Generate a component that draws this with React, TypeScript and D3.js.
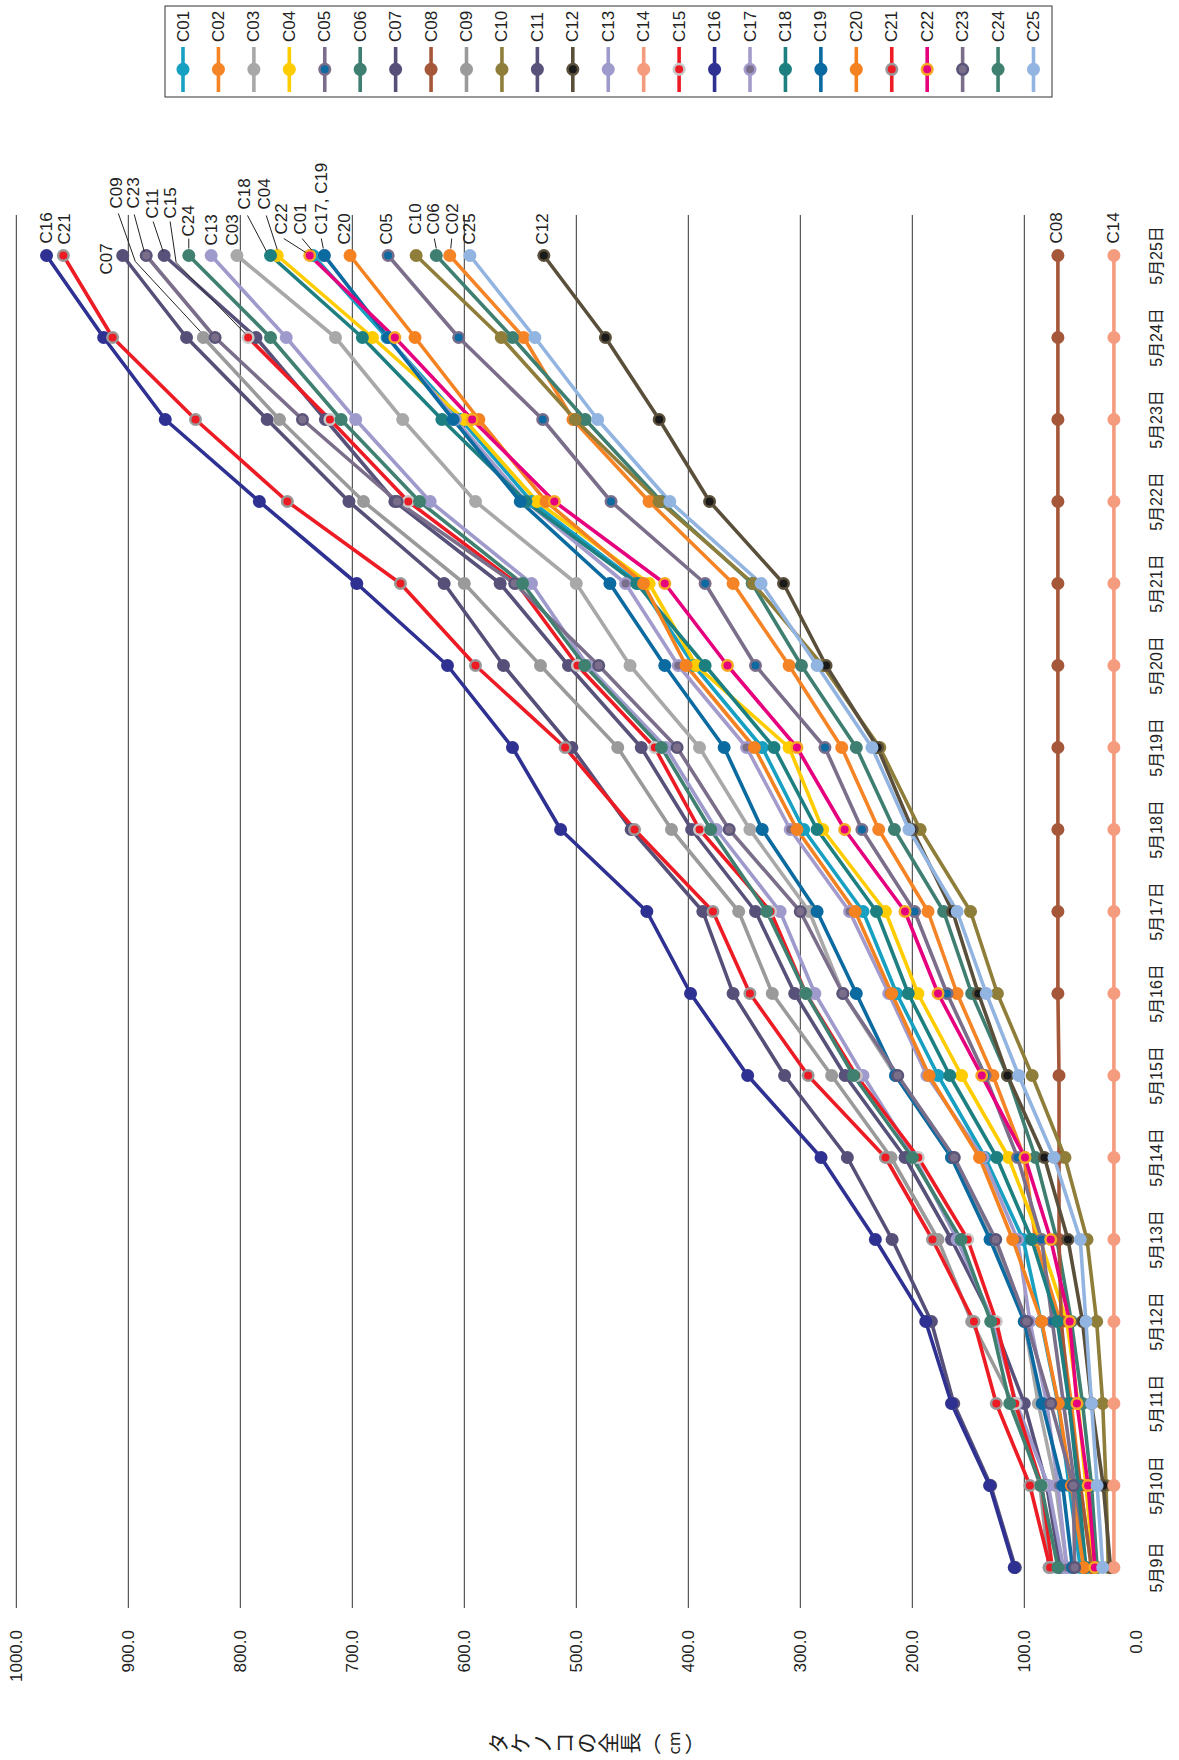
import React from 'react';
import * as d3 from 'd3';

const dates = ['5月9日','5月10日','5月11日','5月12日','5月13日','5月14日','5月15日','5月16日','5月17日','5月18日','5月19日','5月20日','5月21日','5月22日','5月23日','5月24日','5月25日'];
const valueTicks = [0,100,200,300,400,500,600,700,800,900,1000];

const C01 = [50,60,70,85,101,135,177,214,244,297,334,395,444,540,603,669,735];
const C02 = [40,50,58,68,90,100,128,160,186,230,263,310,360,435,503,547,613];
const C03 = [62,72,87.5,100,128,165,215,262,292,345,390,452,500,590,655,715,803];
const C04 = [38,45,52,62,86,114,156,195,224,280,310,393,435,535,600,682,767];
const C05 = [45,55,65,75,84.5,106,135,169,198,245,278,340,385,469,530,605,668];
const C06 = [35,40,48,58,71,90,115,147,172,216,250,299,343,424,492,557,625];
const C07 = [108,130,163,183,218,258,314,360,387,451,504,565,618,703,776,848,905];
const C08 = [40,50,60,67,69,69,69,70,70,70,70,70,70,70,70,70,70];
const C09 = [78,86,110,147,177,219,272,325,355,415,463,532,600,690,765,833,null];
const C10 = [25,27,30,35.4,44,63.7,93,124,148,193,229,280,342,426,501,567,643];
const C11 = [68,80,100,128,165,206.5,260,305,340,397,442,507,568,662,724,786,868];
const C12 = [23,29.5,40,48,61,82,115,141,164,200,231,277,315,381,426,474,529];
const C13 = [65,78.6,107,128,160,198,244,287,318,375,420,490,540,630.5,697,759,826];
const C14 = [20,20,20,20,20,20,20,20,20,20,20,20,20,20,20,20,20];
const C15 = [75,84.5,108,125,150.5,194.6,250,295,326.5,390,430,499,553,650,720,793,null];
const C16 = [109,131,165,188,233,281.5,347,398,437,514,557,615,696,783,867,922,973];
const C17 = [62,70,80,95,106,137,187,221,256,309,348,409,456,545,608,668,725];
const C18 = [45,52,60,70.5,93.4,124.6,166.5,203.6,232,285,323.5,385,446,545,620,691,773];
const C19 = [57,65.7,84,100,130.6,165,215,250,285,334,368,421,470,550,610,668,725];
const C20 = [47,58,69.6,84.5,110.4,140,185,218.4,251,303,341,402,440,527,587,644,702];
const C21 = [77,95,125,145,182,224,293,345,378,448,510,590,657,758,840,914,958];
const C22 = [37,43,53,59.5,76.4,99.4,138,177,206.5,260.4,303,365,421,519.6,593,662,738];
const C23 = [55,56.3,76.4,98,125.5,162.5,213,262,300,363.5,410,480,555,660,744.5,822.5,884];
const C24 = [70,85,113,130,156.5,200,252.5,295,330,380,424,492.5,548,640,710,773,846];
const C25 = [30,35,40,45,50,73.5,105,134,160,203,236,285,335,416.5,481,537,595];

const seriesNames = ['C01','C02','C03','C04','C05','C06','C07','C08','C09','C10','C11','C12','C13','C14','C15','C16','C17','C18','C19','C20','C21','C22','C23','C24','C25'];
const seriesValues = [C01,C02,C03,C04,C05,C06,C07,C08,C09,C10,C11,C12,C13,C14,C15,C16,C17,C18,C19,C20,C21,C22,C23,C24,C25];
const lineColors = ['#17a0c2','#f58426','#a8a8a8','#ffcc00','#7a6e8a','#3f7f72','#565078','#a5573a','#9a9a9a','#8f7d3a','#58527a','#5a4f3a','#9e9acc','#f59c7e','#ed1c24','#2e3192','#a29bcc','#1d7f80','#0b6aa0','#f58220','#ed1c24','#e6007e','#7a6e8a','#3f8070','#92b4e0'];
const ringColors = [null,null,null,null,'#7a6e8a',null,null,null,null,null,null,'#5a4f3a',null,null,'#c8c8c8',null,'#a29bcc',null,null,null,'#999999','#f7a823','#5a5478',null,null];
const innerColors = [null,null,null,null,'#0e6aa0',null,null,null,null,null,null,'#1a1a1a',null,null,'#ed1c24',null,'#7a6e8a',null,null,null,'#ed1c24','#e6007e','#7a6e8a',null,null];

// end-label layout: offset of label (dx, dy) from last marker, optional leader path (relative)
const endLabels: Record<string, {text: string; dx: number; dy: number; leader?: number[][]}> = {
  C16: {text: 'C16', dx: 0, dy: -12},
  C21: {text: 'C21', dx: 1, dy: -11},
  C07: {text: 'C07', dx: -16, dy: 19},
  C09: {text: 'C09', dx: -87, dy: -129, leader: [[-85,-124],[-68,-76],[-3,-6]]},
  C23: {text: 'C23', dx: -13, dy: -47, leader: [[-12,-41],[-2,-4]]},
  C11: {text: 'C11', dx: -12, dy: -37, leader: [[-11,-34],[-1,-4]]},
  C15: {text: 'C15', dx: -78, dy: -119, leader: [[-78,-116],[-72,-75],[-3,-4]]},
  C24: {text: 'C24', dx: 0, dy: -19, leader: [[0,-17],[0,-7]]},
  C13: {text: 'C13', dx: 0, dy: -10},
  C03: {text: 'C03', dx: -4, dy: -10},
  C18: {text: 'C18', dx: -26, dy: -46, leader: [[-23,-40],[-4,-4]]},
  C04: {text: 'C04', dx: -13, dy: -46, leader: [[-11,-40],[0,-6]]},
  C22: {text: 'C22', dx: -28, dy: -21, leader: [[-26,-17],[-4,-3]]},
  C01: {text: 'C01', dx: -13, dy: -21, leader: [[-11,-17],[-1,-5]]},
  C19: {text: 'C17, C19', dx: -3, dy: -21, leader: [[-3,-17],[-1,-7]]},
  C20: {text: 'C20', dx: -6, dy: -11},
  C05: {text: 'C05', dx: -2, dy: -11},
  C10: {text: 'C10', dx: -1, dy: -21},
  C06: {text: 'C06', dx: -3, dy: -21, leader: [[-2,-17],[0,-7]]},
  C02: {text: 'C02', dx: 3, dy: -21, leader: [[2,-17],[1,-7]]},
  C25: {text: 'C25', dx: 0, dy: -11},
  C12: {text: 'C12', dx: -1, dy: -11},
  C08: {text: 'C08', dx: -1, dy: -12},
  C14: {text: 'C14', dx: 0, dy: -12},
};

const titleChars = ['タ','ケ','ノ','コ','の','全','長','（','cm','）'];

const FONT = '"Liberation Sans Narrow", "Arial Narrow", "Liberation Sans", "Noto Sans CJK JP", sans-serif';

export default function App() {
  const W = 1179, H = 1760;
  const x = d3.scaleLinear().domain([0, 1000]).range([1136.3, 16.3]);
  const y = d3.scalePoint<string>().domain(dates).range([1567.5, 255.5]);
  const plotTop = 215, plotBottom = 1608;

  const line = d3.line<[string, number | null]>()
    .defined(d => d[1] != null)
    .x(d => x(d[1] as number))
    .y(d => y(d[0]) as number);

  const legendX = d3.scalePoint<string>().domain(seriesNames).range([183, 1033.5]);

  return (
    <svg width={W} height={H} style={{display: 'block', position: 'absolute', left: 0, top: 0, background: '#fff'}} fontFamily={FONT}>
      <rect x={0} y={0} width={W} height={H} fill="#fff" />
      {valueTicks.filter(v => v > 0).map(v => (
        <line key={'g' + v} x1={x(v)} x2={x(v)} y1={plotTop} y2={plotBottom} stroke="#333" strokeWidth={1} />
      ))}
      {valueTicks.map(v => (
        <text key={'t' + v} transform={`translate(${x(v)},1630) rotate(-90)`} textAnchor="end" dominantBaseline="central" fontSize={17} fill="#222">{v.toFixed(1)}</text>
      ))}
      {dates.map(d => (
        <text key={'d' + d} transform={`translate(1156,${y(d)}) rotate(-90)`} textAnchor="middle" dominantBaseline="central" fontSize={16} fill="#222">{d}</text>
      ))}
      {titleChars.map((c, i) => {
        const cx = 497 + i * 22;
        const rot = c === '（' || c === '）' ? 0 : -90;
        return (
          <text key={'tc' + i} transform={`translate(${cx},1743) rotate(${rot})`} textAnchor="middle" dominantBaseline="central" fontSize={c === 'cm' ? 16 : 21} fill="#222" fontFamily='"Noto Sans CJK JP", sans-serif'>{c}</text>
        );
      })}
      {seriesNames.map((name, i) => {
        const pts = dates.map((d, j) => [d, seriesValues[i][j]] as [string, number | null]);
        return <path key={'l' + name} d={line(pts) || ''} fill="none" stroke={lineColors[i]} strokeWidth={3.6} strokeLinejoin="round" />;
      })}
      {seriesNames.map((name, i) => (
        <g key={'m' + name}>
          {dates.map((d, j) => {
            const v = seriesValues[i][j];
            if (v == null) return null;
            const cx = x(v), cy = y(d) as number;
            return (
              <g key={j}>
                <circle cx={cx} cy={cy} r={6.5} fill={ringColors[i] || lineColors[i]} />
                {innerColors[i] && <circle cx={cx} cy={cy} r={4} fill={innerColors[i] as string} />}
              </g>
            );
          })}
        </g>
      ))}
      {seriesNames.map((name, i) => {
        const lab = endLabels[name];
        if (!lab) return null;
        const vals = seriesValues[i];
        let last = vals.length - 1;
        while (last >= 0 && vals[last] == null) last--;
        const mx = x(vals[last] as number), my = y(dates[last]) as number;
        return (
          <g key={'e' + name}>
            {lab.leader && (
              <polyline points={lab.leader.map(p => `${mx + p[0]},${my + p[1]}`).join(' ')} fill="none" stroke="#222" strokeWidth={1} />
            )}
            <text transform={`translate(${mx + lab.dx},${my + lab.dy}) rotate(-90)`} textAnchor="start" dominantBaseline="central" fontSize={17} fill="#222">{lab.text}</text>
          </g>
        );
      })}
      <rect x={165} y={6} width={887} height={91} fill="#fff" stroke="#333" strokeWidth={1} />
      {seriesNames.map((name, i) => {
        const lx = legendX(name) as number;
        return (
          <g key={'lg' + name}>
            <line x1={lx} x2={lx} y1={47} y2={92} stroke={lineColors[i]} strokeWidth={3.6} />
            <circle cx={lx} cy={69.3} r={6.5} fill={ringColors[i] || lineColors[i]} />
            {innerColors[i] && <circle cx={lx} cy={69.3} r={4} fill={innerColors[i] as string} />}
            <text transform={`translate(${lx},42) rotate(-90)`} textAnchor="start" dominantBaseline="central" fontSize={17} fill="#222">{name}</text>
          </g>
        );
      })}
    </svg>
  );
}
